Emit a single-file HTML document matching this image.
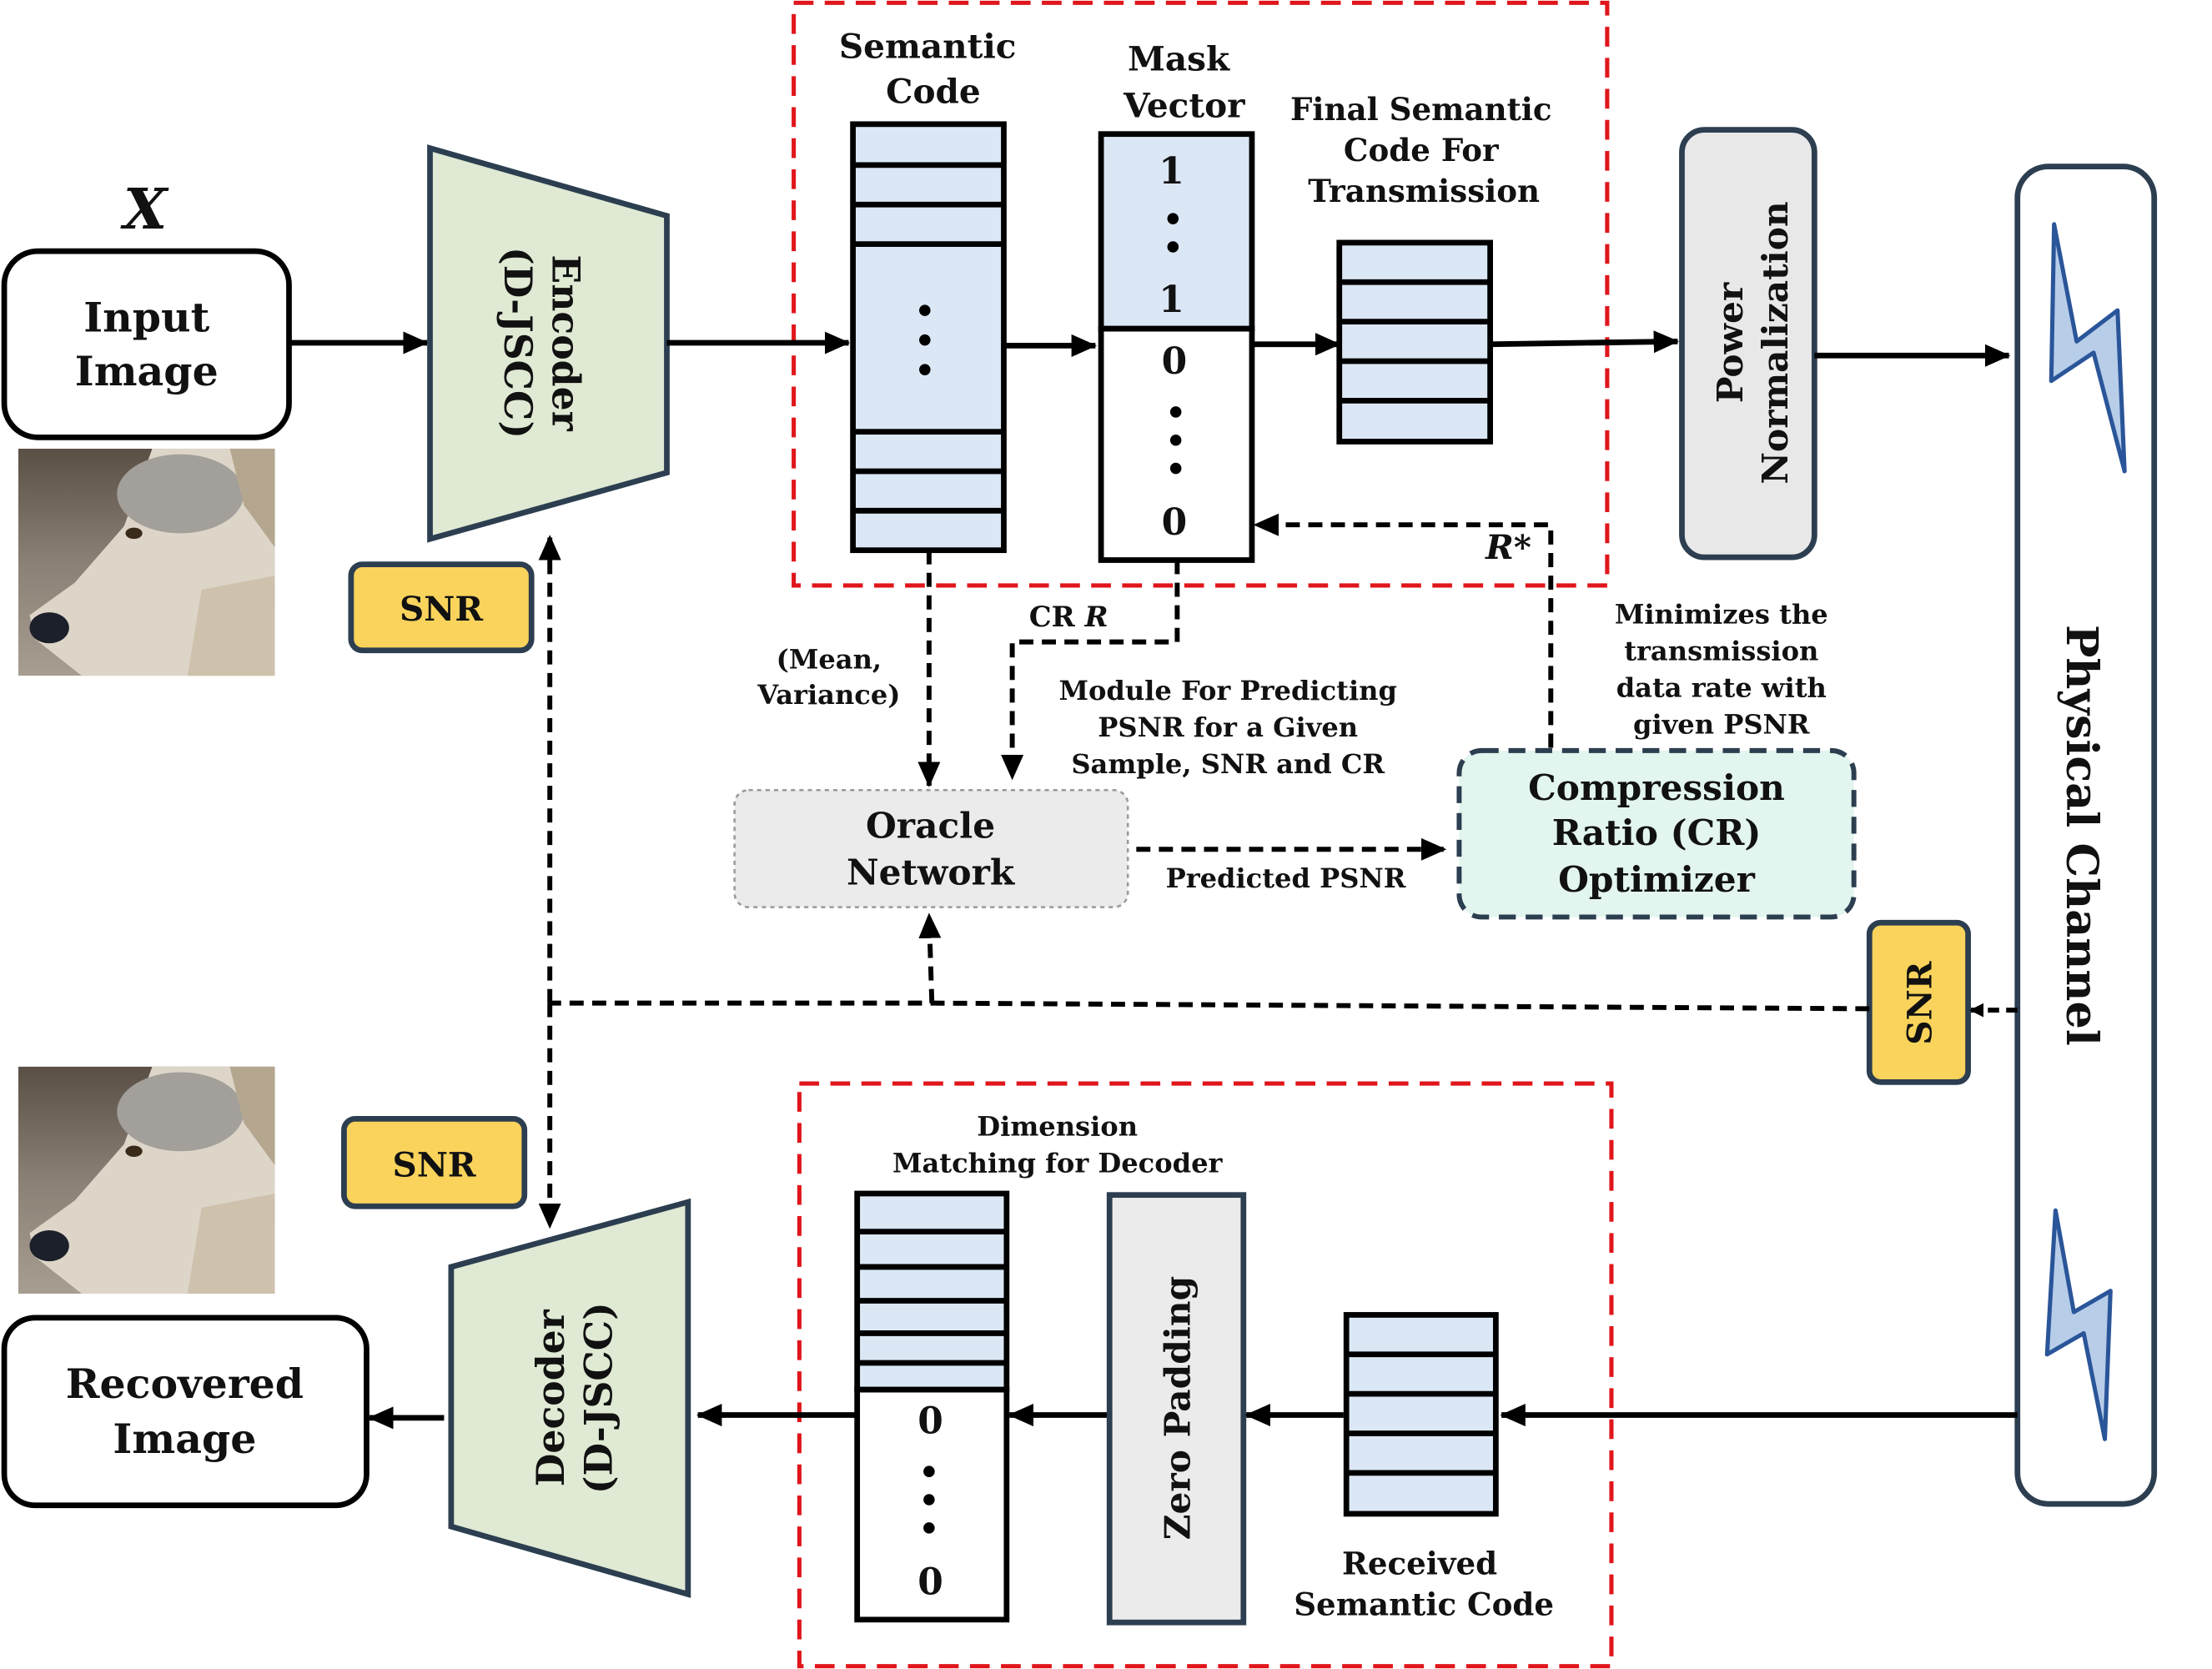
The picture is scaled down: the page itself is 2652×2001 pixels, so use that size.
<!DOCTYPE html>
<html><head><meta charset="utf-8"><style>
html,body{margin:0;padding:0;background:#fff;}
svg{display:block;}
text{font-family:"DejaVu Serif","Liberation Serif",serif;font-weight:bold;fill:#111;}
</style></head><body>
<svg width="2652" height="2001" viewBox="0 0 1569 1183" preserveAspectRatio="none" xmlns="http://www.w3.org/2000/svg">
<defs>
<marker id="a" markerWidth="10" markerHeight="10" refX="9" refY="5" orient="auto" markerUnits="userSpaceOnUse"><path d="M0,0 L10,5 L0,10 z" fill="#000"/></marker>
<marker id="as" markerWidth="18" markerHeight="16" refX="17" refY="8" orient="auto" markerUnits="userSpaceOnUse"><path d="M0,0 L18,8 L0,16 z" fill="#000"/></marker>
<linearGradient id="bg" x1="0" y1="0" x2="0" y2="1"><stop offset="0" stop-color="#5a4f45"/><stop offset="0.5" stop-color="#8a8075"/><stop offset="1" stop-color="#a79d90"/></linearGradient>
<symbol id="wolf" viewBox="0 0 182 161">
<rect width="182" height="161" fill="url(#bg)"/>
<path d="M95,0 L182,0 L182,161 L45,161 L12,135 L8,118 L40,95 L75,55 Z" fill="#ddd5c8"/>
<ellipse cx="115" cy="32" rx="45" ry="28" fill="#a3a09b"/>
<path d="M150,0 L182,0 L182,70 L160,40 Z" fill="#b5a690"/>
<path d="M130,100 L182,90 L182,161 L120,161 Z" fill="#cfc2ad"/>
<ellipse cx="82" cy="60" rx="6" ry="4" fill="#3a2a1a"/>
<ellipse cx="22" cy="127" rx="14" ry="11" fill="#1c202a"/>
</symbol>
</defs>

<text x="103" y="162" font-size="40" font-style="italic" text-anchor="middle">X</text>
<rect x="3" y="178" width="202" height="132" rx="24" fill="#fff" stroke="#000" stroke-width="4"/>
<text x="104" y="235" font-size="29" text-anchor="middle">Input</text>
<text x="104" y="273" font-size="29" text-anchor="middle">Image</text>
<use href="#wolf" x="13" y="318" width="182" height="161"/>
<line x1="205" y1="243" x2="303" y2="243" stroke="#000" stroke-width="4" marker-end="url(#as)"/>

<polygon points="305,105 473,153 473,335 305,382" fill="#dfe9d3" stroke="#2c3e50" stroke-width="4"/>
<g transform="translate(388,243) rotate(90)">
<text x="0" y="-4" font-size="27" text-anchor="middle">Encoder</text>
<text x="0" y="30" font-size="27" text-anchor="middle">(D-JSCC)</text>
</g>
<rect x="249" y="400" width="128" height="61" rx="8" fill="#f9d35b" stroke="#2c3e50" stroke-width="4"/>
<text x="313" y="440" font-size="24" text-anchor="middle">SNR</text>

<rect x="563" y="2" width="577" height="413" fill="none" stroke="#e0161b" stroke-width="3" stroke-dasharray="14,8"/>
<line x1="473" y1="243" x2="602" y2="243" stroke="#000" stroke-width="4" marker-end="url(#as)"/>

<text x="658" y="41" font-size="24" text-anchor="middle">Semantic</text>
<text x="662" y="73" font-size="24" text-anchor="middle">Code</text>
<rect x="605" y="88" width="107" height="302" fill="#dbe7f5" stroke="#000" stroke-width="4"/>
<g stroke="#000" stroke-width="4"><line x1="605" y1="117" x2="712" y2="117"/><line x1="605" y1="145" x2="712" y2="145"/><line x1="605" y1="173" x2="712" y2="173"/><line x1="605" y1="306" x2="712" y2="306"/><line x1="605" y1="334" x2="712" y2="334"/><line x1="605" y1="362" x2="712" y2="362"/></g>
<g fill="#000"><circle cx="656" cy="220" r="4"/><circle cx="656" cy="241" r="4"/><circle cx="656" cy="262" r="4"/></g>
<line x1="712" y1="245" x2="777" y2="245" stroke="#000" stroke-width="4" marker-end="url(#as)"/>

<text x="836" y="50" font-size="24" text-anchor="middle">Mask</text>
<text x="840" y="83" font-size="24" text-anchor="middle">Vector</text>
<rect x="781" y="95" width="107" height="138" fill="#dbe7f5" stroke="#000" stroke-width="4"/>
<rect x="781" y="233" width="107" height="164" fill="#fff" stroke="#000" stroke-width="4"/>
<text x="831" y="130" font-size="26" text-anchor="middle">1</text>
<g fill="#000"><circle cx="832" cy="155" r="4"/><circle cx="832" cy="175" r="4"/></g>
<text x="831" y="221" font-size="26" text-anchor="middle">1</text>
<text x="833" y="265" font-size="26" text-anchor="middle">0</text>
<g fill="#000"><circle cx="834" cy="292" r="4"/><circle cx="834" cy="312" r="4"/><circle cx="834" cy="332" r="4"/></g>
<text x="833" y="379" font-size="26" text-anchor="middle">0</text>
<line x1="888" y1="244" x2="950" y2="244" stroke="#000" stroke-width="4" marker-end="url(#as)"/>

<text x="1008" y="85" font-size="22" text-anchor="middle">Final Semantic</text>
<text x="1008" y="114" font-size="22" text-anchor="middle">Code For</text>
<text x="1010" y="143" font-size="22" text-anchor="middle">Transmission</text>
<rect x="950" y="172" width="107" height="141" fill="#dbe7f5" stroke="#000" stroke-width="4"/>
<g stroke="#000" stroke-width="4"><line x1="950" y1="200" x2="1057" y2="200"/><line x1="950" y1="228" x2="1057" y2="228"/><line x1="950" y1="256" x2="1057" y2="256"/><line x1="950" y1="284" x2="1057" y2="284"/></g>
<line x1="1057" y1="244" x2="1190" y2="242" stroke="#000" stroke-width="4" marker-end="url(#as)"/>

<rect x="1193" y="92" width="94" height="303" rx="16" fill="#e8e8e8" stroke="#2c3e50" stroke-width="4"/>
<g transform="translate(1240,243) rotate(-90)">
<text x="0" y="-4" font-size="25" text-anchor="middle">Power</text>
<text x="0" y="28" font-size="25" text-anchor="middle">Normalization</text>
</g>
<line x1="1287" y1="252" x2="1425" y2="252" stroke="#000" stroke-width="4" marker-end="url(#as)"/>

<rect x="1431" y="118" width="97" height="948" rx="22" fill="#fff" stroke="#2c3e50" stroke-width="4"/>
<text transform="translate(1466,592) rotate(90)" font-size="31" text-anchor="middle">Physical Channel</text>
<polygon points="1457,159 1473,242 1502,220 1507,334 1485,250 1455,270" fill="#b8cde8" stroke="#2a5599" stroke-width="3" stroke-linejoin="round"/>
<polygon points="1458,858 1471,930 1497,915 1493,1020 1478,945 1452,960" fill="#b8cde8" stroke="#2a5599" stroke-width="3" stroke-linejoin="round"/>

<polyline points="1100,530 1100,372 890,372" fill="none" stroke="#000" stroke-width="3.5" stroke-dasharray="10,6" marker-end="url(#as)"/>
<text x="1070" y="396" font-size="24" font-style="italic" font-weight="normal" text-anchor="middle">R*</text>

<line x1="659" y1="390" x2="659" y2="557" stroke="#000" stroke-width="3.5" stroke-dasharray="10,6" marker-end="url(#as)"/>
<text x="758" y="444" font-size="20" text-anchor="middle">CR <tspan font-style="italic">R</tspan></text>
<polyline points="835,397 835,455 718,455 718,552" fill="none" stroke="#000" stroke-width="3.5" stroke-dasharray="10,6" marker-end="url(#as)"/>
<text x="588" y="474" font-size="19" text-anchor="middle">(Mean,</text>
<text x="588" y="499" font-size="19" text-anchor="middle">Variance)</text>
<text x="871" y="496" font-size="19" text-anchor="middle">Module For Predicting</text>
<text x="871" y="522" font-size="19" text-anchor="middle">PSNR for a Given</text>
<text x="871" y="548" font-size="19" text-anchor="middle">Sample, SNR and CR</text>

<rect x="521" y="560" width="279" height="83" rx="10" fill="#ebebeb" stroke="#999" stroke-width="1.5" stroke-dasharray="3,3"/>
<text x="660" y="594" font-size="25" text-anchor="middle">Oracle</text>
<text x="660" y="627" font-size="25" text-anchor="middle">Network</text>
<line x1="806" y1="602" x2="1025" y2="602" stroke="#000" stroke-width="3.5" stroke-dasharray="10,6" marker-end="url(#as)"/>
<text x="912" y="629" font-size="19" text-anchor="middle">Predicted PSNR</text>

<rect x="1035" y="532" width="280" height="118" rx="16" fill="#e2f5ee" stroke="#2c3e50" stroke-width="3.5" stroke-dasharray="12,7"/>
<text x="1175" y="567" font-size="25" text-anchor="middle">Compression</text>
<text x="1175" y="599" font-size="25" text-anchor="middle">Ratio (CR)</text>
<text x="1175" y="632" font-size="25" text-anchor="middle">Optimizer</text>
<text x="1221" y="442" font-size="19" text-anchor="middle">Minimizes the</text>
<text x="1221" y="468" font-size="19" text-anchor="middle">transmission</text>
<text x="1221" y="494" font-size="19" text-anchor="middle">data rate with</text>
<text x="1221" y="520" font-size="19" text-anchor="middle">given PSNR</text>

<rect x="1326" y="654" width="70" height="113" rx="8" fill="#f9d35b" stroke="#2c3e50" stroke-width="4"/>
<text transform="translate(1370,711) rotate(-90)" font-size="24" text-anchor="middle">SNR</text>
<line x1="1431" y1="716" x2="1398" y2="716" stroke="#000" stroke-width="3.5" stroke-dasharray="8,5" marker-end="url(#a)"/>
<polyline points="1326,715 660,711 390,711" fill="none" stroke="#000" stroke-width="3.5" stroke-dasharray="10,6"/>
<line x1="661" y1="711" x2="659" y2="648" stroke="#000" stroke-width="3.5" stroke-dasharray="10,6" marker-end="url(#as)"/>
<line x1="390" y1="711" x2="390" y2="380" stroke="#000" stroke-width="3.5" stroke-dasharray="10,6" marker-end="url(#as)"/>
<line x1="390" y1="711" x2="390" y2="870" stroke="#000" stroke-width="3.5" stroke-dasharray="10,6" marker-end="url(#as)"/>

<use href="#wolf" x="13" y="756" width="182" height="161"/>
<rect x="244" y="793" width="128" height="62" rx="8" fill="#f9d35b" stroke="#2c3e50" stroke-width="4"/>
<text x="308" y="834" font-size="24" text-anchor="middle">SNR</text>
<rect x="3" y="934" width="257" height="133" rx="22" fill="#fff" stroke="#000" stroke-width="4"/>
<text x="131" y="991" font-size="29" text-anchor="middle">Recovered</text>
<text x="131" y="1030" font-size="29" text-anchor="middle">Image</text>
<line x1="315" y1="1005" x2="262" y2="1005" stroke="#000" stroke-width="4" marker-end="url(#as)"/>

<polygon points="320,898 488,852 488,1130 320,1082" fill="#dfe9d3" stroke="#2c3e50" stroke-width="4"/>
<g transform="translate(404,991) rotate(-90)">
<text x="0" y="-4" font-size="27" text-anchor="middle">Decoder</text>
<text x="0" y="30" font-size="27" text-anchor="middle">(D-JSCC)</text>
</g>

<rect x="567" y="768" width="576" height="413" fill="none" stroke="#e0161b" stroke-width="3" stroke-dasharray="14,8"/>
<line x1="607" y1="1003" x2="495" y2="1003" stroke="#000" stroke-width="4" marker-end="url(#as)"/>
<text x="750" y="805" font-size="19" text-anchor="middle">Dimension</text>
<text x="750" y="831" font-size="19" text-anchor="middle">Matching  for Decoder</text>
<rect x="608" y="846" width="106" height="139" fill="#dbe7f5" stroke="#000" stroke-width="4"/>
<g stroke="#000" stroke-width="4"><line x1="608" y1="873" x2="714" y2="873"/><line x1="608" y1="898" x2="714" y2="898"/><line x1="608" y1="922" x2="714" y2="922"/><line x1="608" y1="945" x2="714" y2="945"/><line x1="608" y1="966" x2="714" y2="966"/></g>
<rect x="608" y="985" width="106" height="163" fill="#fff" stroke="#000" stroke-width="4"/>
<text x="660" y="1016" font-size="26" text-anchor="middle">0</text>
<g fill="#000"><circle cx="659" cy="1043" r="4"/><circle cx="659" cy="1063" r="4"/><circle cx="659" cy="1083" r="4"/></g>
<text x="660" y="1130" font-size="26" text-anchor="middle">0</text>
<line x1="787" y1="1003" x2="716" y2="1003" stroke="#000" stroke-width="4" marker-end="url(#as)"/>

<rect x="787" y="847" width="95" height="303" fill="#ebebeb" stroke="#2c3e50" stroke-width="4"/>
<text transform="translate(844,998) rotate(-90)" font-size="25" text-anchor="middle">Zero Padding</text>
<line x1="953" y1="1003" x2="884" y2="1003" stroke="#000" stroke-width="4" marker-end="url(#as)"/>

<rect x="955" y="932" width="106" height="141" fill="#dbe7f5" stroke="#000" stroke-width="4"/>
<g stroke="#000" stroke-width="4"><line x1="955" y1="960" x2="1061" y2="960"/><line x1="955" y1="988" x2="1061" y2="988"/><line x1="955" y1="1016" x2="1061" y2="1016"/><line x1="955" y1="1044" x2="1061" y2="1044"/></g>
<text x="1007" y="1116" font-size="22" text-anchor="middle">Received</text>
<text x="1010" y="1145" font-size="22" text-anchor="middle">Semantic Code</text>
<line x1="1431" y1="1003" x2="1065" y2="1003" stroke="#000" stroke-width="4" marker-end="url(#as)"/>
</svg>
</body></html>
